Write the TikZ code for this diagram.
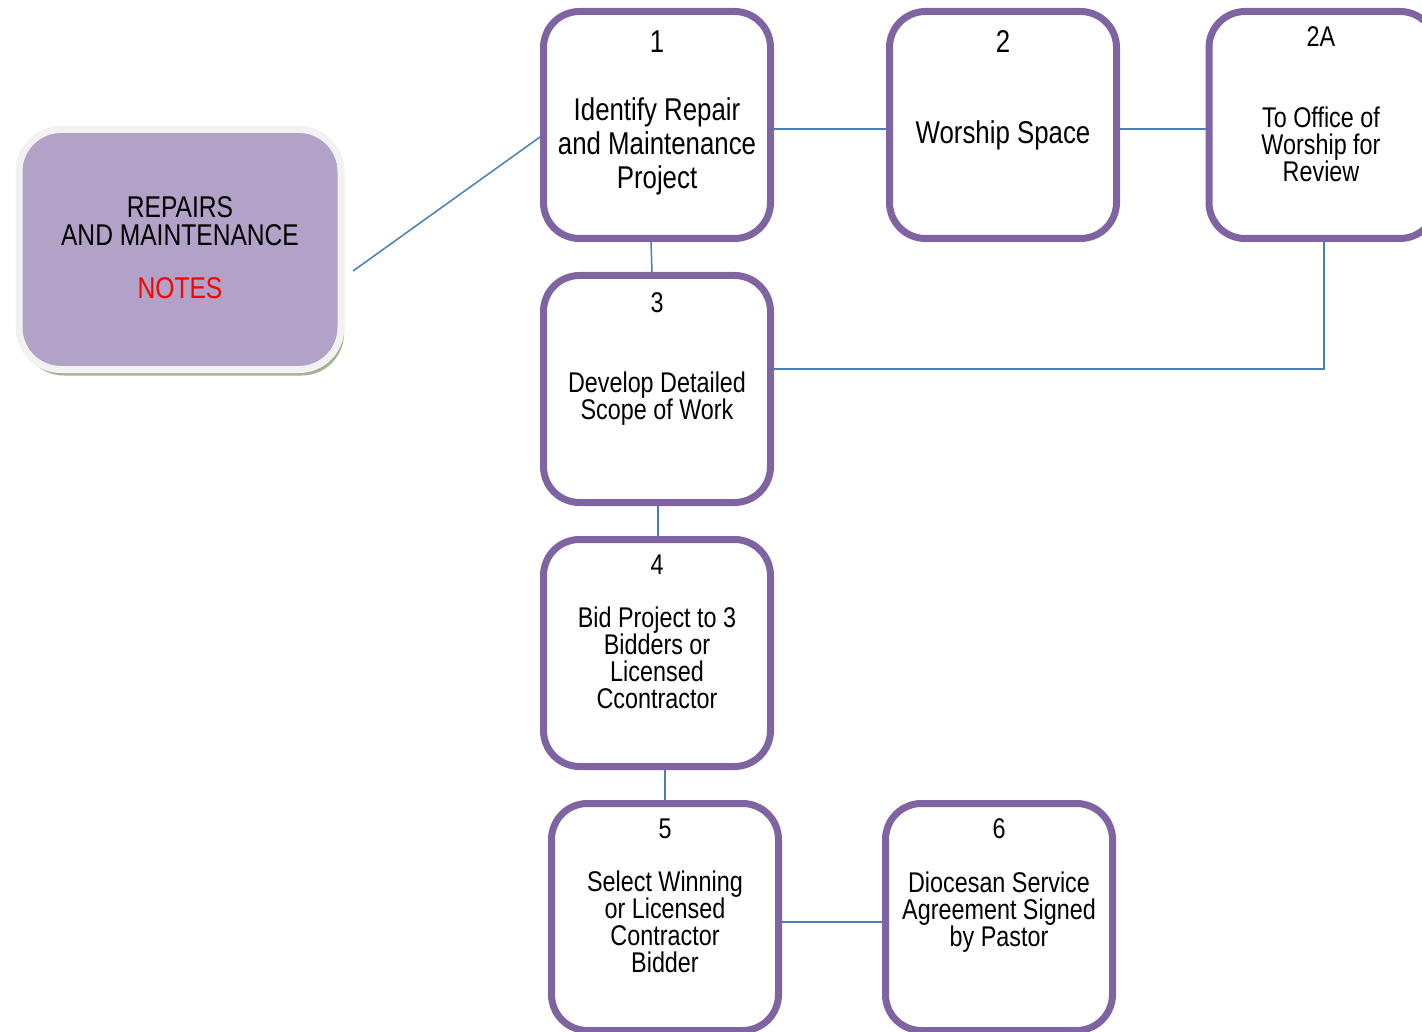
\documentclass[tikz,border=0pt]{standalone}
\usepackage{fontspec}
\setmainfont{Liberation Sans}[FakeStretch=0.82]
\usetikzlibrary{shadows}
\definecolor{boxpurple}{RGB}{128,100,162}
\definecolor{notesfill}{RGB}{178,162,199}
\definecolor{notesring}{RGB}{242,242,242}
\definecolor{notesshadow}{RGB}{165,178,145}
\definecolor{connblue}{RGB}{74,126,187}
\tikzset{
  stepbox/.style={draw=boxpurple, line width=7pt, rounded corners=36pt, fill=white,
    minimum width=227pt, minimum height=227pt, inner sep=0pt},
  notesbox/.style={draw=notesring, line width=7pt, fill=notesfill, rounded corners=42pt,
    minimum width=322pt, minimum height=240pt, inner sep=0pt,
    drop shadow={shadow xshift=3pt, shadow yshift=-6pt, fill=notesshadow, opacity=1}},
  txt/.style={align=center, inner sep=0pt, font=\fontsize{28.5pt}{27pt}\selectfont},
  bigtxt/.style={align=center, inner sep=0pt, font=\fontsize{31.5pt}{34pt}\selectfont},
  notestxt/.style={align=center, inner sep=0pt, font=\fontsize{30pt}{28pt}\selectfont},
  conn/.style={draw=connblue, line width=1.5pt},
}
\begin{document}
\begin{tikzpicture}[x=1pt, y=-1pt]
\useasboundingbox (0,0) rectangle (1422,1032);
% boxes
\node[notesbox] (notes) at (180,249.5) {};
\node[stepbox] (b1) at (657,125) {};
\node[stepbox] (b2) at (1003,125) {};
\node[stepbox] (b2A) at (1322.5,125) {};
\node[stepbox] (b3) at (657,389) {};
\node[stepbox] (b4) at (657,653) {};
\node[stepbox] (b5) at (665,917) {};
\node[stepbox] (b6) at (999,917) {};
% texts
\node[notestxt] (notesT) at (180,221) {REPAIRS\\AND MAINTENANCE};
\node[notestxt, text=red] (notesN) at (180,288) {NOTES};
\node[bigtxt] (n1) at (657,42) {1};
\node[bigtxt] (t1) at (657,146) {Identify Repair\\and Maintenance\\Project};
\node[bigtxt] (n2) at (1003,42) {2};
\node[bigtxt] (t2) at (1003,135) {Worship Space};
\node[txt] (n2A) at (1321,37) {2A};
\node[txt] (t2A) at (1321,144) {To Office of\\Worship for\\Review};
\node[txt] (n3) at (657,303) {3};
\node[txt] (t3) at (657,399) {Develop Detailed\\Scope of Work};
\node[txt] (n4) at (657,565) {4};
\node[txt] (t4) at (657,658) {Bid Project to 3\\Bidders or\\Licensed\\Ccontractor};
\node[txt] (n5) at (665,829) {5};
\node[txt] (t5) at (665,922) {Select Winning\\or Licensed\\Contractor\\Bidder};
\node[txt] (n6) at (999,829) {6};
\node[txt] (t6) at (999,912) {Diocesan Service\\Agreement Signed\\by Pastor};
% connectors
\draw[conn] ([shift={(8.5pt,-21.5pt)}]notes.east) -- ([yshift=-12pt]b1.west);
\draw[conn] ([yshift=-4pt]b1.east) -- ([yshift=-4pt]b2.west);
\draw[conn] ([yshift=-4pt]b2.east) -- ([yshift=-4pt]b2A.west);
\draw[conn] ([xshift=-6pt]b1.south) -- ([xshift=-5pt]b3.north);
\draw[conn] ([yshift=20pt]b3.east) -| ([xshift=1.5pt]b2A.south);
\draw[conn] ([xshift=1pt]b3.south) -- ([xshift=1pt]b4.north);
\draw[conn] ([xshift=8pt]b4.south) -- (b5.north);
\draw[conn] ([yshift=-5pt]b5.east) -- ([yshift=-5pt]b6.west);
\end{tikzpicture}
\end{document}
